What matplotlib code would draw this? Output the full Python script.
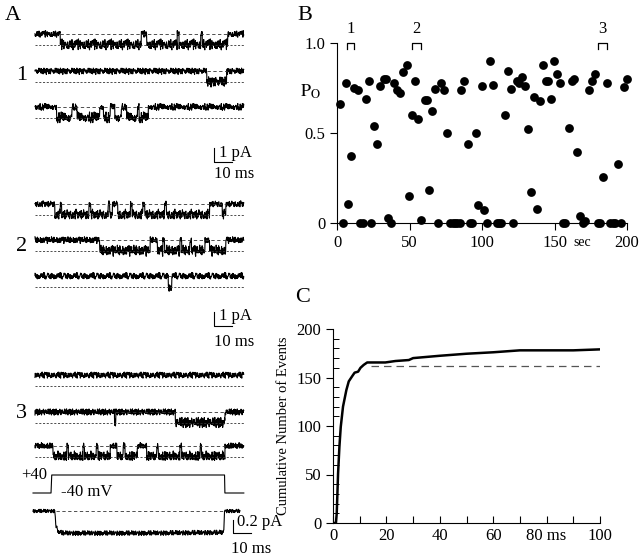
import numpy as np
import matplotlib
matplotlib.use("Agg")
import matplotlib.pyplot as plt

plt.rcParams['font.family'] = ['Liberation Serif', 'DejaVu Serif']
plt.rcParams['mathtext.fontset'] = 'stix'

# ---------------- data ----------------
# panel A: open intervals (ms) of each sweep, 3 groups x 3 sweeps
g1_opens = [
    [(14, 59), (62, 79), (80, 92), (93, 107)],
    [(95.5, 106.5)],
    [(12, 20.5), (23.3, 36), (38, 41.7), (44.4, 48), (51, 57), (57.8, 63)],
]
g2_opens = [
    [(11, 14), (14.8, 30), (31, 40.6), (41.5, 43), (46, 53), (54, 60), (61, 72), (73, 97), (104, 106)],
    [(36, 64), (68, 71), (72, 80.5), (81.5, 86), (87, 94.5), (97, 106)],
    [(74, 76)],
]
g3_opens = [
    [],
    [(44.2, 45), (78, 105.5)],
    [(10, 17.7), (18.5, 26.7), (27.5, 34), (35, 41.7), (45.5, 49), (50, 56.7), (62, 67.7),
     (68.5, 80.5), (81.5, 91.7), (92.5, 105.5)],
]
unit_amp = 0.75   # pA
sweep_len = 116   # ms

# hand typed jitter for the recording noise
jit = [0.3, -0.5, 0.8, -0.2, -0.9, 0.4, 0.1, -0.6, 0.7, -0.3, 0.5, -0.8, 0.2, 0.9, -0.4, -0.1,
       0.6, -0.7, 0.3, -0.2, 0.8, -0.5, -0.9, 0.4, 0.0, 0.7, -0.6, 0.2, -0.3, 0.9, -0.8, 0.5,
       0.1, -0.4, 0.6, -0.7, -0.2, 0.8, -0.1, 0.3, -0.9, 0.5, 0.2, -0.5, 0.7, -0.3, 0.4, -0.8,
       0.1, 0.6, -0.6, 0.9, -0.2, -0.4, 0.3, 0.8, -0.7, 0.0, -0.3, 0.5, -0.1]

# ensemble average
avg_t = [0, 11, 11.5, 12.5, 14, 16, 60, 104.8, 105.3, 114]
avg_i = [0, 0, -0.2, -0.3, -0.33, -0.34, -0.34, -0.33, 0, 0]

# voltage protocol
prot_t = [-1.1, 8.9, 9.3, 105.3, 105.5, 116]
prot_v = [40, 40, -40, -40, 40, 40]

# panel B: open probability per sweep
po_t = [2.1, 3.9, 6.2, 7.8, 9.7, 12, 14.3, 15.9, 18.2, 20, 22, 23.4, 25.7, 27.8, 29.9, 32.2,
        34, 35.4, 37.2, 39.5, 41.1, 43.4, 45.7, 48, 49.4, 51.5, 54, 55.9, 57.7, 60.5, 62, 63.7,
        65.7, 67.8, 69.9, 72, 73.8, 75.6, 78, 80, 81.5, 83, 84.5, 85.7, 87.4, 90.1, 91.7, 93.3,
        95.9, 97.5, 99.8, 101.6, 103.2, 105.7, 107.8, 110, 111.7, 113.3, 115.9, 117.9, 119.8,
        121.6, 123.9, 125.7, 127.6, 129.4, 131.5, 133.6, 135.6, 137.7, 139.8, 141.8, 143.9,
        145.7, 147.8, 149.9, 152, 154, 156.1, 157.5, 160, 161.8, 163.7, 165.7, 167.6, 169.4,
        171.3, 173.8, 175.9, 177.9, 179.8, 181.4, 183.7, 186.4, 188.3, 190.1, 191.7, 194,
        195.9, 198.2, 200.2]
po_v = [0.66, 0, 0.78, 0.105, 0.374, 0.75, 0.74, 0, 0, 0.69, 0.79, 0, 0.54, 0.44, 0.76, 0.80,
        0.80, 0.026, 0, 0.78, 0.74, 0.72, 0.84, 0.88, 0.15, 0.60, 0.79, 0.58, 0.015, 0.685,
        0.685, 0.185, 0.62, 0.745, 0, 0.78, 0.74, 0.5, 0, 0, 0, 0, 0, 0.74, 0.79, 0.44, 0, 0,
        0.5, 0.098, 0.76, 0.07, 0, 0.90, 0.765, 0, 0, 0, 0.60, 0.845, 0.745, 0, 0.79, 0.78,
        0.81, 0.76, 0.52, 0.17, 0.70, 0.08, 0.675, 0.88, 0.79, 0.79, 0.69, 0.90, 0.83, 0.775,
        0, 0, 0.53, 0.79, 0.80, 0.395, 0.037, 0, 0.01, 0.74, 0.79, 0.83, 0, 0, 0.254, 0.78,
        0, 0, 0, 0.33, 0, 0.755, 0.80]
seg_marks = ['1', '2', '3']
seg_ranges = [(7, 12), (52, 58), (180, 186)]

# panel C: cumulative number of events vs latency
cum_t = [0, 1.1, 1.4, 1.9, 2.4, 2.9, 3.75, 5, 5.9, 7.1, 8.1, 9.4, 10.3, 11.5, 12.8, 19.6,
         23.4, 28.4, 30, 40, 50, 60, 70, 80, 90, 100]
cum_n = [0, 0, 10, 51, 78.6, 99, 120, 137, 146, 151, 155, 156, 160, 163, 165.5, 165.5,
         167, 168, 170, 172.4, 174.5, 176, 178, 178, 178, 179]
fit_plateau = 162
fit_start = 14.4

# ---------------- layout helpers (pixel -> units) ----------------
W, H = 640, 558
PX_MS = 1.8      # px per ms in panel A
PX_PA = 14.0     # px per pA in panel A
PX_PA_AVG = 65.0
X0 = 35          # left edge of sweeps


def ty(py):
    return -py / PX_PA


def tx(px):
    return (px - X0) / PX_MS


fig = plt.figure(figsize=(W / 100, H / 100), dpi=100)

# ---------------- panel A ----------------
axA = fig.add_axes([0, 0, 1, 1])
axA.set_xlim(tx(0), tx(W))
axA.set_ylim(-H / PX_PA, 0)
axA.axis('off')
axA.patch.set_visible(False)

t = np.arange(0, sweep_len + 0.01, 0.15)
idx = np.arange(len(t))
jit_a = np.array(jit)

groups = [g1_opens, g2_opens, g3_opens]
rows = [[34, 71, 107], [204, 240, 276], [375, 412, 446]]
k = 0
for g, opens_list in enumerate(groups):
    for s, opens in enumerate(opens_list):
        base = ty(rows[g][s])
        is_open = np.zeros(len(t), dtype=bool)
        for a, b in opens:
            is_open |= (t >= a) & (t < b)
        step = [7, 11, 13, 17, 19, 23, 29, 31, 37][k]
        nz = jit_a[(idx * step + 5 * k) % len(jit)]
        nz2 = jit_a[(idx * (step + 6) + 3 * k + 1) % len(jit)]
        cur = np.where(is_open, -unit_amp + 0.3 * nz + 0.16 * nz2, 0.2 * nz + 0.08 * nz2)
        axA.plot(t, base + cur, color='black', lw=0.8)
        # open level (short dashes)
        axA.plot([0, sweep_len], [base - unit_amp] * 2, color='#333333', lw=0.6,
                 linestyle=(0, (2.5, 2)))
        # closed level over the open span
        if opens:
            axA.plot([opens[0][0], opens[-1][1]], [base] * 2, color='#333333', lw=0.6,
                     linestyle=(0, (4, 3)))
        k += 1

# group numbers
for lab, py in zip(['1', '2', '3'], [75, 246, 413]):
    fig.text(16 / W, 1 - py / H, lab, fontsize=16, ha='left', va='center')

# scale bars 1 pA / 10 ms
for py_bot, py_txt, py_ms in [(162, 153, 174), (326, 316, 342)]:
    xb = tx(214)
    yb = ty(py_bot)
    axA.plot([xb, xb, xb + 10], [yb + 1, yb, yb], color='black', lw=0.8)
    fig.text(219 / W, 1 - py_txt / H, '1 pA', fontsize=12, va='center')
    fig.text(214 / W, 1 - py_ms / H, '10 ms', fontsize=12, va='center')

# voltage protocol
pv = [ty(484 + v * 18 / 80) for v in prot_v]
axA.plot(prot_t, pv, color='black', lw=0.8)
fig.text(21 / W, 1 - 475 / H, '+40', fontsize=12, va='center')
fig.text(61 / W, 1 - 492 / H, '-40 mV', fontsize=12, va='center')

# ensemble average
ta = np.arange(-1.1, 114.01, 0.2)
env = np.interp(ta, avg_t, avg_i)
nz = jit_a[(np.arange(len(ta)) * 41 + 3) % len(jit)]
amp = np.where(env < -0.05, 0.04, 0.03)
axA.plot(ta, ty(511) + (env + amp * nz) * PX_PA_AVG / PX_PA, color='black', lw=0.8)
axA.plot([11.5, 104.5], [ty(511)] * 2, color='#333333', lw=0.6, linestyle=(0, (4, 3)))
xb = tx(233)
yb = ty(533)
axA.plot([xb, xb, xb + 10], [yb + 0.2 * PX_PA_AVG / PX_PA, yb, yb], color='black', lw=0.8)
fig.text(237 / W, 1 - 522 / H, '0.2 pA', fontsize=12, va='center')
fig.text(231 / W, 1 - 549 / H, '10 ms', fontsize=12, va='center')

fig.text(5 / W, 1 - 16 / H, 'A', fontsize=16, va='center')

# ---------------- panel B ----------------
axB = fig.add_axes([337 / W, 1 - 223 / H, 290 / W, 180 / H])
axB.scatter(po_t, po_v, s=40, color='black', clip_on=False, zorder=3, linewidths=0)
axB.set_xlim(0, 200)
axB.set_ylim(0, 1)
axB.spines['top'].set_visible(False)
axB.spines['right'].set_visible(False)
axB.set_xticks([0, 50, 100, 150, 200])
axB.set_yticks([0, 0.5, 1.0])
axB.set_yticklabels(['0', '0.5', '1.0'])
axB.tick_params(labelsize=12, length=5, width=0.8, direction='out')
axB.patch.set_visible(False)
for sp in axB.spines.values():
    sp.set_linewidth(0.8)
axB.text(169, -0.11, 'sec', fontsize=10, ha='center', va='center',
         transform=axB.transData)
for m, (a, b) in zip(seg_marks, seg_ranges):
    axB.plot([a, a, b, b], [0.965, 1.0, 1.0, 0.965], color='black', lw=0.9, clip_on=False)
    axB.text((a + b) / 2, 1.08, m, fontsize=12, ha='center', va='center')
fig.text(300 / W, 1 - 92 / H, r'$\mathrm{P_O}$', fontsize=13, va='center')
fig.text(297 / W, 1 - 16 / H, 'B', fontsize=16, va='center')

# ---------------- panel C ----------------
axC = fig.add_axes([333 / W, 1 - 523 / H, 267 / W, 194 / H])
axC.plot(cum_t, cum_n, color='black', lw=1.8)
axC.plot([fit_start, 100], [fit_plateau] * 2, color='#555555', lw=0.9, linestyle=(0, (6, 4)))
axC.set_xlim(0, 100)
axC.set_ylim(0, 200)
axC.spines['top'].set_visible(False)
axC.spines['right'].set_visible(False)
for sp in axC.spines.values():
    sp.set_linewidth(0.8)
axC.set_xticks([0, 20, 40, 60, 80, 100])
axC.set_xticklabels(['0', '20', '40', '60', '80 ms', '100'])
axC.set_xticks(np.arange(10, 100, 20), minor=True)
axC.set_yticks([0, 50, 100, 150, 200])
axC.set_yticks(np.arange(10, 200, 10), minor=True)
axC.tick_params(axis='y', which='major', labelsize=12, length=5, width=0.8, direction='out')
axC.tick_params(axis='y', which='minor', length=4, width=0.7, direction='in')
axC.tick_params(axis='x', which='both', labelsize=12, length=5, width=0.8, direction='in')
axC.set_ylabel('Cumulative Number of Events', fontsize=10.5, labelpad=4)
axC.yaxis.set_label_coords(-0.16, 0.5)
axC.patch.set_visible(False)
fig.text(295 / W, 1 - 297 / H, 'C', fontsize=16, va='center')

fig.savefig('out.png', dpi=100, facecolor='white')
